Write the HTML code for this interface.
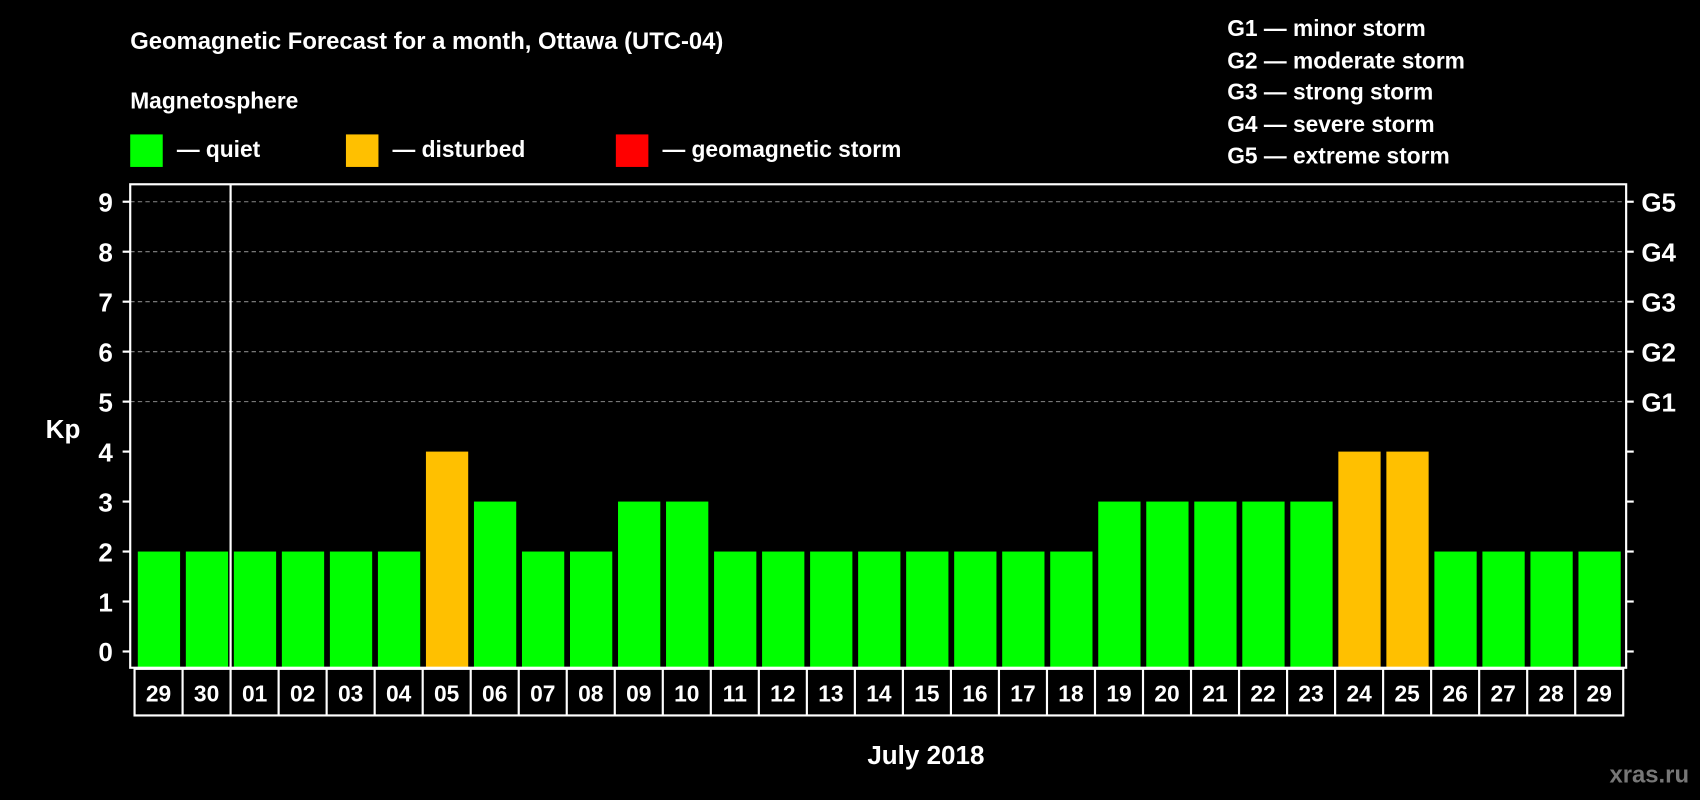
<!DOCTYPE html>
<html><head><meta charset="utf-8"><style>
html,body{margin:0;padding:0;background:#000;}
svg{display:block;font-family:"Liberation Sans",Arial,sans-serif;font-weight:bold;}
</style></head><body>
<svg id="chart" width="1700" height="800" viewBox="0 0 1568 738" xmlns="http://www.w3.org/2000/svg">
<rect width="1568" height="738" fill="#000"/>
<text x="120" y="45" fill="#fff" font-size="22">Geomagnetic Forecast for a month, Ottawa (UTC-04)</text>
<text x="120" y="100" fill="#fff" font-size="21">Magnetosphere</text>
<g>
<rect x="120" y="124" width="30" height="30" fill="#00ff00"/>
<text x="163" y="145" fill="#fff" font-size="21">— quiet</text>
<rect x="319" y="124" width="30" height="30" fill="#ffc000"/>
<text x="362" y="145" fill="#fff" font-size="21">— disturbed</text>
<rect x="568" y="124" width="30" height="30" fill="#ff0000"/>
<text x="611" y="145" fill="#fff" font-size="21">— geomagnetic storm</text>
</g>
<g fill="#fff" font-size="21">
<text x="1132" y="33">G1 — minor storm</text>
<text x="1132" y="63">G2 — moderate storm</text>
<text x="1132" y="92">G3 — strong storm</text>
<text x="1132" y="122">G4 — severe storm</text>
<text x="1132" y="151">G5 — extreme storm</text>
</g>
<g id="grid"></g>
<g id="bars"></g>
<rect x="120" y="170" width="1380" height="446" fill="none" stroke="#fff" stroke-width="2"/>
<g id="axes"></g>
<g id="dates"></g>
<text x="58" y="404" fill="#fff" font-size="24" text-anchor="middle">Kp</text>
<text x="854" y="705" fill="#fff" font-size="24" text-anchor="middle">July 2018</text>
<text x="1558" y="722" fill="#777" font-size="22" text-anchor="end">xras.ru</text>
</svg>
<script>
const days = ["29","30","01","02","03","04","05","06","07","08","09","10","11","12","13","14","15","16","17","18","19","20","21","22","23","24","25","26","27","28","29"];
const kpValues = [2,2,2,2,2,2,4,3,2,2,3,3,2,2,2,2,2,2,2,2,3,3,3,3,3,4,4,2,2,2,2];
const yTicks = [0,1,2,3,4,5,6,7,8,9];
const gLabels = ["G1","G2","G3","G4","G5"];
const gLevels = [5,6,7,8,9];
const NS="http://www.w3.org/2000/svg";
const X0=124, PITCH=44.3, Y0=601, UNIT=46.1;
const xCell=i=>X0+i*PITCH;
const yScale=v=>Y0-v*UNIT;
function mk(tag,attrs,parent){const e=document.createElementNS(NS,tag);for(const k in attrs)e.setAttribute(k,attrs[k]);parent.appendChild(e);return e;}
const grid=document.getElementById('grid'),bars=document.getElementById('bars'),axes=document.getElementById('axes'),dates=document.getElementById('dates');
gLevels.forEach((lv,i)=>{
  const l=mk('line',{x1:120,x2:1500,y1:yScale(lv),y2:yScale(lv),stroke:'#888','stroke-dasharray':'4,3','stroke-width':1},grid);
  
  
  const t=mk('text',{x:1514,y:yScale(lv)+9,fill:'#fff','font-size':24},axes);t.textContent=gLabels[i];
  
  
});
yTicks.forEach(v=>{
  const t=mk('text',{x:104,y:yScale(v)+9,fill:'#fff','font-size':24,'text-anchor':'end'},axes);t.textContent=v;
  
  
  mk('line',{x1:113,x2:120,y1:yScale(v),y2:yScale(v),stroke:'#fff','stroke-width':2},axes);
  const r=mk('line',{x1:1500,x2:1507,y1:yScale(v),y2:yScale(v),stroke:'#fff','stroke-width':2},axes);
  
  
});
kpValues.forEach((v,i)=>{
  const col=v>=5?'#ff0000':(v>=4?'#ffc000':'#00ff00');
  const b=mk('rect',{x:xCell(i)+3,y:yScale(v),width:39,height:616-yScale(v),fill:col},bars);
  
  
});
mk('rect',{x:X0,y:617,width:PITCH*days.length,height:43,fill:'none',stroke:'#fff','stroke-width':2},dates);
days.forEach((d,i)=>{
  if(i>0){const l=mk('line',{x1:xCell(i),x2:xCell(i),y1:617,y2:660,stroke:'#fff','stroke-width':2},dates);}
  const t=mk('text',{x:xCell(i)+PITCH/2,y:647,fill:'#fff','font-size':21,'text-anchor':'middle'},dates);t.textContent=d;
  
  
});
const sep=mk('line',{x1:xCell(2),x2:xCell(2),y1:170,y2:617,stroke:'#fff','stroke-width':2},axes);


</script>
</body></html>
